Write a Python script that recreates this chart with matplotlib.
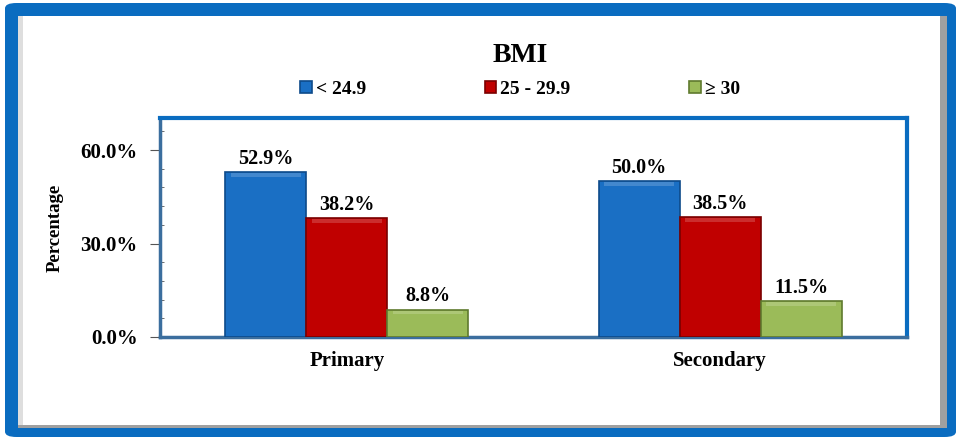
import matplotlib
matplotlib.use("Agg")
import matplotlib.pyplot as plt
import numpy as np
from matplotlib.patches import FancyBboxPatch, Rectangle
from matplotlib.ticker import MultipleLocator, FuncFormatter

groups = ["Primary", "Secondary"]
series = ["< 24.9", "25 - 29.9", "\u2265 30"]
under_25 = [52.9, 50.0]
from_25_to_30 = [38.2, 38.5]
over_30 = [8.8, 11.5]
colors = ["#1a6fc4", "#c00000", "#9bbb59"]
edges = ["#0d4a8a", "#7a0000", "#5f7a2e"]

plt.rcParams['font.family'] = ['Liberation Serif', 'DejaVu Serif']
plt.rcParams['font.weight'] = 'bold'

fig = plt.figure(figsize=(9.6, 4.41), dpi=100)
W, H = 960, 441

# outer blue frame, grey shadow, white panel
fig.patches.append(FancyBboxPatch((5 / W, 4 / H), 951 / W, 434 / H,
                                  boxstyle="round,pad=0,rounding_size=0.012",
                                  transform=fig.transFigure, facecolor="#0a6cc0",
                                  edgecolor="none", zorder=0))
fig.patches.append(Rectangle((18 / W, 13 / H), 929 / W, 412 / H,
                             transform=fig.transFigure, facecolor="#a0a0a0",
                             edgecolor="none", zorder=1))
fig.patches.append(Rectangle((18 / W, 16 / H), 922 / W, 409 / H,
                             transform=fig.transFigure, facecolor="#dedede",
                             edgecolor="none", zorder=1))
fig.patches.append(Rectangle((23 / W, 16 / H), 917 / W, 409 / H,
                             transform=fig.transFigure, facecolor="white",
                             edgecolor="none", zorder=1))

ax = fig.add_axes([160 / W, 1 - 337 / H, 747 / W, 219 / H])
ax.set_facecolor("white")
ax.set_zorder(2)

x = np.arange(len(groups))
w = 0.217
data = [under_25, from_25_to_30, over_30]
for i, vals in enumerate(data):
    pos = x + (i - 1) * w
    ax.bar(pos, vals, w, color=colors[i], edgecolor=edges[i], linewidth=1.2,
           label=series[i], zorder=3)
    # bevel highlight on top of each bar
    ax.bar(pos, [1.2] * len(vals), w * 0.86, bottom=np.array(vals) - 1.5,
           color="white", alpha=0.18, linewidth=0, zorder=4)
    for px, v in zip(pos, vals):
        ax.text(px, v + 1.0, f"{v:.1f}%", ha="center", va="bottom",
                fontsize=14.5, fontweight="bold", zorder=5)

ax.set_xlim(-0.5, 1.5)
ax.set_ylim(0, 70.3)
ax.set_xticks(x)
ax.set_xticklabels(groups, fontsize=15, fontweight="bold")
ax.tick_params(axis="x", length=0, pad=10)
ax.yaxis.set_major_locator(MultipleLocator(30))
ax.yaxis.set_minor_locator(MultipleLocator(6))
ax.yaxis.set_major_formatter(FuncFormatter(lambda v, p: f"{v:.1f}%"))
ax.tick_params(axis="y", which="major", length=7, direction="out",
               color="#555555", labelsize=15, pad=9)
ax.tick_params(axis="y", which="minor", length=3, direction="in", color="#555555")
for lab in ax.get_yticklabels():
    lab.set_fontweight("bold")
ax.set_ylabel("Percentage", fontsize=13.5, fontweight="bold", labelpad=12)

for s in ["top", "right"]:
    ax.spines[s].set_color("#0a6cc0")
    ax.spines[s].set_linewidth(3)
for s in ["left", "bottom"]:
    ax.spines[s].set_color("#3b6e9e")
    ax.spines[s].set_linewidth(2.5)

fig.text(520 / W, 1 - 55 / H, "BMI", ha="center", va="center",
         fontsize=20, fontweight="bold")
ax.legend(loc="center", bbox_to_anchor=(0.482, 1.132), ncol=3, frameon=False,
          handlelength=0.6, handleheight=0.6, handletextpad=0.2,
          columnspacing=6.1, prop={"weight": "bold", "size": 14})

fig.savefig("out.png", dpi=100)
